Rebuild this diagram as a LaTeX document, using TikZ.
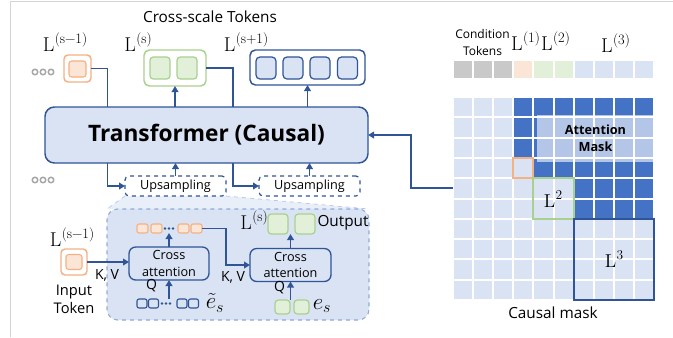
\documentclass[tikz,border=0pt]{standalone}
\usepackage{fontspec}
\newfontfamily\sansf{Open Sans}
\usetikzlibrary{arrows.meta,backgrounds}
\definecolor{dblue}{HTML}{2F5597}
\definecolor{lblue}{HTML}{DAE3F3}
\definecolor{mblue}{HTML}{4472C4}
\definecolor{pborder}{HTML}{8FAADC}
\definecolor{oborder}{HTML}{F4B183}
\definecolor{ofill}{HTML}{FBE5D6}
\definecolor{gborder}{HTML}{A9D18E}
\definecolor{gfill}{HTML}{E2F0D9}
\definecolor{grayc}{HTML}{C9C9C9}
\definecolor{ringgray}{HTML}{A6A6A6}
\definecolor{framec}{HTML}{D4D4D4}
\definecolor{trapc}{HTML}{E9EFF8}
\newcommand\Ls[1]{L\kern0.3pt\raisebox{0.42em}{\scalebox{0.72}{#1}}}
\newcommand\mn{\char"2212\relax}
\tikzset{
  wh/.style 2 args={minimum width=#1*0.75pt, minimum height=#2*0.75pt, inner sep=0pt, outer sep=0pt},
  conn/.style={draw=dblue, line width=1.4pt, -{Triangle[width=5pt,length=4.5pt]}},
  plain/.style={draw=dblue, line width=1.4pt},
  lab/.style={inner sep=0pt, font=\fontsize{15}{17}\selectfont},
  labm/.style={inner sep=0pt, font=\fontsize{15}{17}\selectfont},
  obox/.style={draw=oborder, line width=1.1pt, fill=white, rounded corners=3pt},
  oin/.style={draw=oborder, line width=0.8pt, fill=ofill, rounded corners=2pt},
  gbox/.style={draw=gborder, line width=1.1pt, fill=white, rounded corners=4pt},
  gin/.style={draw=gborder, line width=0.9pt, fill=gfill, rounded corners=2.5pt},
  bbox/.style={draw=dblue, line width=1.1pt, fill=white, rounded corners=4pt},
  bin/.style={draw=dblue, line width=0.9pt, fill=lblue, rounded corners=3pt},
  ring/.style={circle, draw=ringgray, line width=1.1pt, minimum size=5.5*0.75pt, inner sep=0pt},
  tbox/.style={draw=dblue, fill=lblue, line width=1.1pt, rounded corners=7pt, font=\sansf\bfseries\fontsize{17}{19}\selectfont},
  ubox/.style={draw=dblue, dashed, line width=0.9pt, fill=white, rounded corners=3pt, font=\sansf\fontsize{9.5}{11}\selectfont},
  panel/.style={draw=pborder, dashed, fill=lblue, line width=0.8pt, rounded corners=8pt},
  cabox/.style={draw=dblue, fill=lblue, line width=1pt, rounded corners=5pt, align=center, font=\sansf\fontsize{9.5}{12.5}\selectfont},
  txt/.style={inner sep=0pt, font=\sansf\fontsize{11}{13.5}\selectfont, align=center},
  small/.style={inner sep=0pt, font=\sansf\fontsize{10.5}{12}\selectfont},
  osq/.style={draw=oborder, line width=0.8pt, fill=ofill, rounded corners=1.5pt},
  bsq/.style={draw=dblue, line width=0.8pt, fill=lblue, rounded corners=1.5pt},
  dotb/.style={circle, fill=dblue, minimum size=2.8*0.75pt, inner sep=0pt},
  cell/.style={draw=white, line width=1.5pt},
}
\begin{document}
\begin{tikzpicture}[x=0.75pt,y=-0.75pt]
\useasboundingbox (0,0) rectangle (673,337);
\draw[framec, line width=0.75pt] (10.5,337) -- (10.5,1.5) -- (673,1.5);

% ---------- top tokens ----------
\node[font=\sansf\fontsize{11.5}{13}\selectfont, inner sep=0pt] (title) at (210,17) {Cross-scale Tokens};
\node[lab] (la) at (65,42) {\Ls{(s\mn1)}};
\node[lab] (lb) at (138,42) {\Ls{(s)}};
\node[lab] (lc) at (246,42) {\Ls{(s+1)}};

\node[obox, wh={27}{27}] (ta) at (77.5,68.5) {};
\node[oin, wh={17}{16}] (ta1) at (77.5,69) {};
\node[gbox, wh={62}{36}] (tb) at (175,68) {};
\node[gin, wh={20}{22}] (tb1) at (160,68) {};
\node[gin, wh={20}{22}] (tb2) at (187,68) {};
\node[bbox, wh={115}{35}] (tc) at (307.5,67.5) {};
\foreach \i/\x in {1/266,2/293,3/320,4/347.5}
  \node[bin, wh={20}{22}] (tc\i) at (\x,68) {};
\foreach \i/\x in {1/35,2/43,3/51}{
  \node[ring] (ra\i) at (\x,72) {};
  \node[ring] (rb\i) at (\x,180) {};
}

% ---------- transformer ----------
\node[tbox, wh={323}{56}] (T) at (206.5,135) {Transformer (Causal)};
\coordinate (Ta) at (107.5,107);
\coordinate (Tb) at (233,107);
\draw[plain] (ta.east) -| (Ta);
\draw[plain] (tb.east) -| (Tb);
\draw[conn] (T.north -| tb.south) -- (tb.south);
\draw[conn] (T.north -| tc.south) -- (tc.south);

\node[ubox, wh={101}{20}] (U1) at (175.5,186) {Upsampling};
\node[ubox, wh={101}{20}] (U2) at (309.5,186) {Upsampling};
\draw[conn] (T.south -| Ta) |- (U1.west);
\draw[conn] (T.south -| Tb) |- (U2.west);
\draw[conn] (U1.north) -- (U1.north |- T.south);
\draw[conn] (U2.north) -- (U2.north |- T.south);

% ---------- detail panel ----------
\node[panel, wh={262}{111}] (P) at (238,264.5) {};
\begin{pgfonlayer}{background}
\fill[trapc] (U1.south west) -- (U1.south east) -- (P.north east) -- (P.north west) -- cycle;
\draw[pborder!70, dashed, line width=0.5pt] (U1.south west) -- (P.north west) (U1.south east) -- (P.north east);
\end{pgfonlayer}

\node[lab] (lp) at (72,237) {\Ls{(s\mn1)}};
\node[obox, wh={26}{26}] (in) at (74,262) {};
\node[oin, wh={16}{15}] (in1) at (74,262) {};
\node[txt] (inlab) at (74,299) {Input\\Token};

\node[cabox, wh={80}{33}] (C1) at (169,263.5) {Cross\\attention};
\node[cabox, wh={81}{33}] (C2) at (290.5,265) {Cross\\attention};

\draw[conn] (in.east) -- (C1.west |- in.east);
\node[small] (kv1) at (107,275) {K, V};

\node[osq, wh={11}{9}] (s1) at (142.5,228.5) {};
\node[osq, wh={11}{9}] (s2) at (156.5,228.5) {};
\node[dotb] (sd1) at (165,228.5) {};
\node[dotb] (sd2) at (169,228.5) {};
\node[dotb] (sd3) at (173,228.5) {};
\node[osq, wh={11}{9}] (s3) at (183.5,228.5) {};
\node[osq, wh={11}{9}] (s4) at (196.5,228.5) {};
\draw[conn] (C1.north) -- (C1.north |- s1.south);

\coordinate (kb) at (226,246);
\draw[conn] (s4.east) -| (kb) |- (C2.west);
\node[small] (kv2) at (233,277) {K, V};

\node[gin, wh={20}{20}] (o1) at (278,224) {};
\node[gin, wh={20}{20}] (o2) at (305,224) {};
\node[lab] (ls) at (254,220) {\Ls{(s)}};
\node[txt, font=\sansf\fontsize{11.5}{13.5}\selectfont] (outl) at (343,223) {Output};
\draw[conn] (C2.north) -- (C2.north |- o1.south);

\node[bsq, wh={10}{9}] (b1) at (142,303.5) {};
\node[bsq, wh={10}{9}] (b2) at (153.5,303.5) {};
\node[dotb] (bd1) at (162,303.5) {};
\node[dotb] (bd2) at (166,303.5) {};
\node[dotb] (bd3) at (170,303.5) {};
\node[bsq, wh={10}{9}] (b3) at (182,303.5) {};
\node[bsq, wh={10}{9}] (b4) at (193.5,303.5) {};
\draw[conn] (C1.south |- b1.north) -- (C1.south);
\node[small] (q1) at (151.5,286) {Q};
\node[inner sep=0pt, font=\fontsize{17}{19}\selectfont] (et) at (215,303) {$\tilde{e}_s$};

\node[gin, wh={15}{14}] (g1) at (282.5,307) {};
\node[gin, wh={15}{14}] (g2) at (301.5,307) {};
\draw[conn] (C2.south |- g1.north) -- (C2.south);
\node[small] (q2) at (279.5,288) {Q};
\node[inner sep=0pt, font=\fontsize{17}{19}\selectfont] (es) at (322,306) {$e_s$};

% ---------- mask ----------
\node[txt, font=\sansf\fontsize{9}{12.75}\selectfont] (cond) at (482.5,42.5) {Condition\\Tokens};
\node[labm] (l1) at (525.5,41) {\Ls{(1)}};
\node[labm] (l2h) at (555.5,41) {\Ls{(2)}};
\node[labm] (l3h) at (615.5,43) {\Ls{(3)}};

\foreach \c/\col in {0/grayc,1/grayc,2/grayc,3/ofill,4/gfill,5/gfill,6/lblue,7/lblue,8/lblue,9/lblue}
  \node[cell, fill=\col, wh={20.1}{19.5}] (h-\c) at ({463.05+20.1*\c},69.5) {};

\foreach \r in {0,...,9}{
  \foreach \c in {0,...,9}{
    \pgfmathtruncatemacro\th{\r<=2 ? 3 : (\r==3 ? 4 : (\r<=5 ? 6 : 10))}
    \ifnum\c<\th \def\cc{lblue}\else\def\cc{mblue}\fi
    \node[cell, fill=\cc, wh={20.1}{20.3}] (m-\r-\c) at ({463.05+20.1*\c},{107.15+20.3*\r}) {};
  }
}
\node[wh={117}{47}, fill=white, fill opacity=0.6, text opacity=1, align=center,
      font=\sansf\bfseries\fontsize{9.5}{12.75}\selectfont] (am) at (595.5,138.5) {Attention\\Mask};

\draw[oborder, line width=1.4pt] (m-3-3.north west) rectangle (m-3-3.south east);
\draw[gborder, line width=1.4pt] (m-4-4.north west) rectangle (m-5-5.south east);
\draw[dblue, line width=1.4pt] (m-6-6.north west) rectangle (m-9-9.south east);
\node[labm, font=\fontsize{14}{16}\selectfont] (l2) at (553,199) {\Ls{2}};
\node[labm, font=\fontsize{14}{16}\selectfont] (l3) at (614,259) {\Ls{3}};
\node[txt, font=\sansf\fontsize{11.5}{13}\selectfont] (cm) at (553,313) {Causal mask};

\draw[conn] (m-4-0.west) -- ++(-42,0) |- (T.east);
\end{tikzpicture}
\end{document}
